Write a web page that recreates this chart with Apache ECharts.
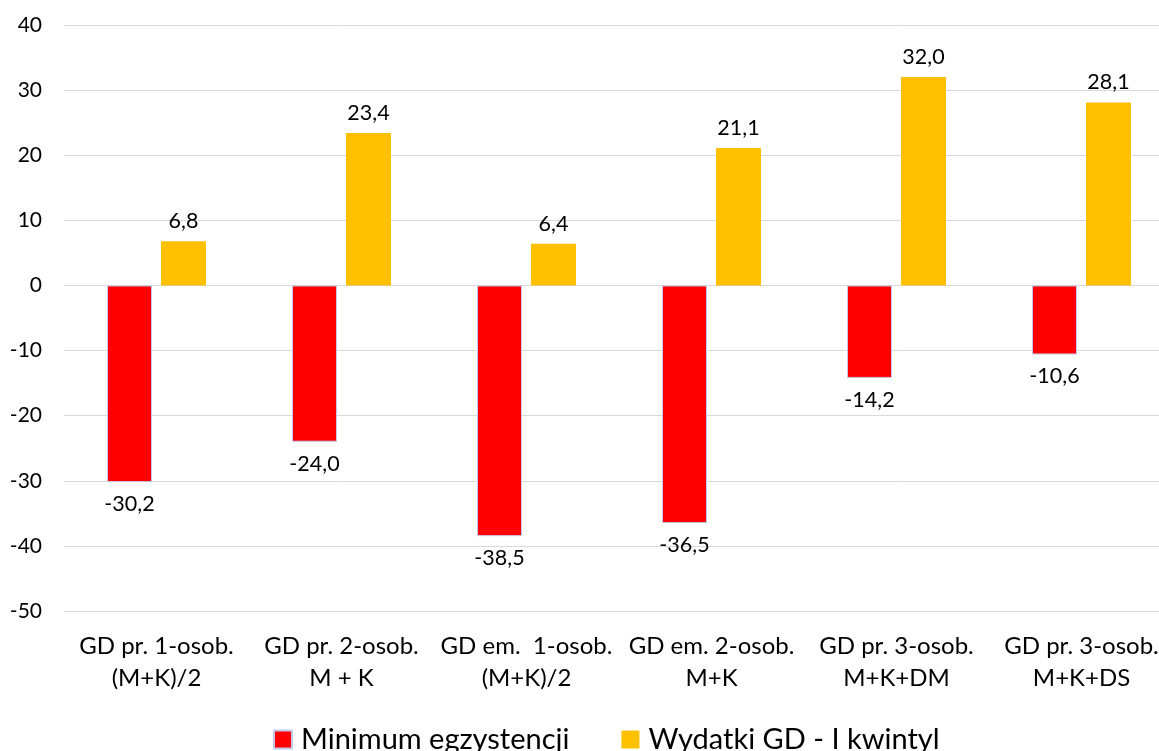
<!DOCTYPE html>
<html>
<head>
<meta charset="utf-8">
<script src="https://cdn.jsdelivr.net/npm/echarts@6/dist/echarts.min.js"></script>
<style>html,body{margin:0;padding:0;background:#fff;overflow:hidden}#c{width:1174px;height:751px}</style>
</head>
<body>
<div id="c"></div>
<script>
const categories = ['GD pr. 1-osob.\n(M+K)/2', 'GD pr. 2-osob.\nM + K', 'GD em.  1-osob.\n(M+K)/2', 'GD em. 2-osob.\nM+K', 'GD pr. 3-osob.\nM+K+DM', 'GD pr. 3-osob.\nM+K+DS'];
const minimumValues = [-30.2, -24.0, -38.5, -36.5, -14.2, -10.6];
const wydatkiValues = [6.8, 23.4, 6.4, 21.1, 32.0, 28.1];
const seriesNames = ['Minimum egzystencji', 'Wydatki GD - I kwintyl'];
const yTicks = { min: -50, max: 40, interval: 10 };

const FONT = 'Lato, "Noto Sans", sans-serif';
const fmt = v => v.toFixed(1).replace('.', ',');
const toItems = arr => arr.map(v => ({ value: v, label: { position: v < 0 ? 'bottom' : 'top' } }));

const chart = echarts.init(document.getElementById('c'), null, { renderer: 'canvas' });
chart.setOption({
  animation: false,
  backgroundColor: '#fff',
  textStyle: { fontFamily: FONT },
  grid: { left: 64, right: 0, top: 25, bottom: 140, containLabel: false },
  legend: {
    top: 720, left: 268, itemGap: 52, itemWidth: 18, itemHeight: 18,
    icon: 'rect',
    textStyle: { fontFamily: FONT, fontSize: 29, color: '#000', padding: [0, 0, 0, 4] },
    data: seriesNames
  },
  xAxis: {
    type: 'category', data: categories,
    axisLine: { show: false }, axisTick: { show: false },
    axisLabel: { fontFamily: FONT, fontSize: 24, color: '#000', lineHeight: 32, margin: 19, interval: 0 }
  },
  yAxis: {
    type: 'value', min: yTicks.min, max: yTicks.max, interval: yTicks.interval,
    axisLine: { show: false }, axisTick: { show: false },
    axisLabel: { fontFamily: FONT, fontSize: 21, color: '#000', margin: 22 },
    splitLine: { lineStyle: { color: '#d9d9d9', width: 1 } }
  },
  series: [
    {
      name: seriesNames[0], type: 'bar', barWidth: 45, barGap: '20%',
      data: toItems(minimumValues),
      itemStyle: { color: '#ff0000', borderColor: '#c3c9ea', borderWidth: 1 },
      label: { show: true, fontFamily: FONT, fontSize: 21.5, color: '#000', distance: 11, formatter: p => fmt(p.value) }
    },
    {
      name: seriesNames[1], type: 'bar', barWidth: 45, barGap: '20%',
      data: toItems(wydatkiValues),
      itemStyle: { color: '#ffc000' },
      label: { show: true, fontFamily: FONT, fontSize: 21.5, color: '#000', distance: 9, formatter: p => fmt(p.value) }
    }
  ]
});
</script>
</body>
</html>
